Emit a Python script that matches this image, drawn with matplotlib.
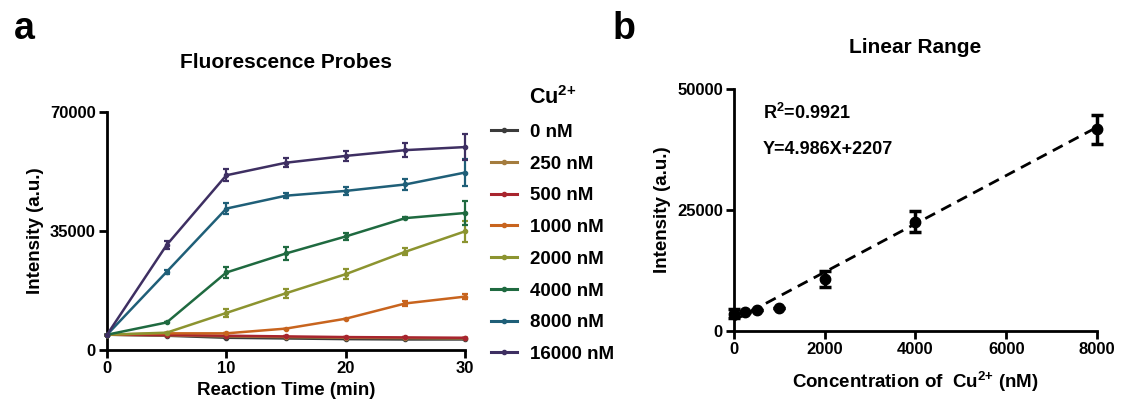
import numpy as np
import matplotlib.pyplot as plt
from matplotlib.lines import Line2D

plt.rcParams["font.family"] = ["Liberation Sans", "DejaVu Sans"]
plt.rcParams["font.weight"] = "bold"
plt.rcParams["mathtext.fontset"] = "custom"
plt.rcParams["mathtext.rm"] = "Liberation Sans:bold"
plt.rcParams["mathtext.bf"] = "Liberation Sans:bold"
plt.rcParams["mathtext.default"] = "bf"

# panel a: fluorescence vs reaction time
TIME = [0, 5, 10, 15, 20, 25, 30]
CONC_LABELS = ["0 nM", "250 nM", "500 nM", "1000 nM", "2000 nM", "4000 nM", "8000 nM", "16000 nM"]
COLORS = ["#3b3b3b", "#a47c3e", "#a8252e", "#c8641e", "#8c9430", "#1f6a40", "#1f5f78", "#3e2f62"]
SERIES = [
    [4500, 4200, 3600, 3400, 3200, 3100, 3100],
    [4500, 4300, 4000, 3800, 3600, 3500, 3400],
    [4500, 4400, 4200, 4000, 3800, 3700, 3600],
    [4500, 4900, 4900, 6300, 9200, 13700, 15700],
    [4500, 5100, 10900, 16700, 22300, 28900, 34900],
    [4500, 8100, 22800, 28400, 33400, 38800, 40300],
    [4500, 23000, 41600, 45400, 46800, 48700, 52200],
    [4500, 30900, 51400, 55100, 57100, 58800, 59700],
]
ERRORS = [
    [0, 0, 0, 0, 0, 0, 0],
    [0, 0, 0, 0, 0, 0, 0],
    [0, 0, 0, 0, 0, 0, 0],
    [0, 0, 0, 0, 0, 800, 800],
    [0, 0, 1200, 1300, 1500, 1000, 3000],
    [0, 0, 1500, 1800, 1000, 300, 3400],
    [0, 600, 1500, 800, 1300, 1600, 4000],
    [0, 1200, 1800, 1300, 1500, 2000, 3900],
]

# panel b: linear range
CU_CONC = [0, 250, 500, 1000, 2000, 4000, 8000]
INTENSITY = [3600, 3950, 4300, 4800, 10700, 22600, 41700]
INTENSITY_ERR = [1000, 0, 0, 0, 1600, 2200, 3000]
SLOPE = 4.986
INTERCEPT = 2207


def style_axes(ax):
    for s in ["top", "right"]:
        ax.spines[s].set_visible(False)
    for s in ["left", "bottom"]:
        ax.spines[s].set_linewidth(2.0)
    ax.tick_params(width=2.0, length=6, labelsize=12, pad=2)
    for lab in ax.get_xticklabels() + ax.get_yticklabels():
        lab.set_fontweight("bold")


fig = plt.figure(figsize=(11.23, 4.12), dpi=100)

# ---- panel a
ax1 = fig.add_axes([0.0953, 0.1505, 0.3187, 0.5775])
for i in reversed(range(len(SERIES))):
    ax1.errorbar(TIME, SERIES[i], yerr=ERRORS[i], color=COLORS[i], lw=1.8,
                 marker="o", ms=3, capsize=2.5, elinewidth=1.6, capthick=1.6,
                 clip_on=False, zorder=3 + i * 0.01)
ax1.set_xlim(0, 30)
ax1.set_ylim(0, 70000)
ax1.set_xticks([0, 10, 20, 30])
ax1.set_yticks([0, 35000, 70000])
ax1.set_xlabel("Reaction Time (min)", fontsize=13.5, fontweight="bold", labelpad=4)
ax1.set_ylabel("Intensity (a.u.)", fontsize=13.5, fontweight="bold", labelpad=4)
ax1.set_title("Fluorescence Probes", fontsize=15, fontweight="bold", pad=32)
style_axes(ax1)

handles = [Line2D([], [], color=c, lw=2.2, marker="o", ms=3) for c in COLORS]
leg = ax1.legend(handles, CONC_LABELS, title="Cu$^{2{+}}$", loc="upper left",
                 bbox_to_anchor=(1.025, 1.18), frameon=False, fontsize=13.5,
                 title_fontsize=15.5, handlelength=1.4, handletextpad=0.7,
                 labelspacing=0.78, alignment="center")
for t in leg.get_texts():
    t.set_fontweight("bold")
leg.get_title().set_fontweight("bold")

fig.text(0.012, 0.93, "a", fontsize=27, fontweight="bold", va="center", ha="left")

# ---- panel b
ax2 = fig.add_axes([0.6536, 0.1966, 0.3232, 0.5874])
fit_x = np.array([CU_CONC[0], CU_CONC[-1]])
ax2.plot(fit_x, SLOPE * fit_x + INTERCEPT, color="black", lw=2.0, ls=(0, (4, 2.5)), zorder=2)
ax2.errorbar(CU_CONC, INTENSITY, yerr=INTENSITY_ERR, fmt="o", color="black", ms=7.5,
             capsize=4, elinewidth=2.5, capthick=2.5, clip_on=False, zorder=3)
ax2.set_xlim(0, 8000)
ax2.set_ylim(0, 50000)
ax2.set_xticks([0, 2000, 4000, 6000, 8000])
ax2.set_yticks([0, 25000, 50000])
ax2.set_xlabel("Concentration of  Cu$^{2{+}}$ (nM)", fontsize=13.5, fontweight="bold", labelpad=9)
ax2.set_ylabel("Intensity (a.u.)", fontsize=13.5, fontweight="bold", labelpad=4)
ax2.set_title("Linear Range", fontsize=15, fontweight="bold", pad=26)
style_axes(ax2)
ax2.text(0.08, 0.9, "R$^2$=0.9921", transform=ax2.transAxes, fontsize=13, fontweight="bold", va="center")
ax2.text(0.08, 0.75, f"Y={SLOPE}X+{INTERCEPT}", transform=ax2.transAxes, fontsize=13,
         fontweight="bold", va="center")

fig.text(0.545, 0.93, "b", fontsize=27, fontweight="bold", va="center", ha="left")

fig.savefig("out.png", dpi=100)
